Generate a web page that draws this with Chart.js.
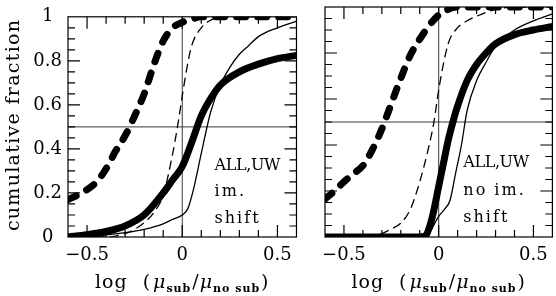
<!DOCTYPE html>
<html>
<head>
<meta charset="utf-8">
<script src="https://cdn.jsdelivr.net/npm/chart.js@4.4.1/dist/chart.umd.min.js"></script>
<style>
html, body { margin: 0; padding: 0; background: #fff; }
#wrap { position: relative; width: 556px; height: 296px; }
#c1 { position: absolute; left: 0; top: 0; }
#c2 { position: absolute; left: 300px; top: 0; }
</style>
</head>
<body>
<div id="wrap">
  <canvas id="c1" width="300" height="296"></canvas>
  <canvas id="c2" width="256" height="296"></canvas>
</div>
<script>
// axis ticks
var xTickValues = [-0.5, 0, 0.5];
var yTickValues = [0, 0.2, 0.4, 0.6, 0.8, 1];

// left panel: "ALL,UW im. shift"
var leftNote = ['ALL,UW', 'im.', 'shift'];
var lHeavyDashX = [-0.6, -0.55, -0.5, -0.45, -0.4, -0.35, -0.3, -0.25, -0.2, -0.15, -0.1, -0.05, 0, 0.05, 0.1, 0.6];
var lHeavyDashY = [0.17, 0.19, 0.215, 0.25, 0.31, 0.39, 0.46, 0.55, 0.65, 0.78, 0.89, 0.95, 0.975, 0.99, 1.0, 1.0];
var lThinDashX = [-0.6, -0.4, -0.3, -0.25, -0.2, -0.15, -0.1, -0.05, -0.025, 0, 0.025, 0.05, 0.1, 0.15, 0.2, 0.6];
var lThinDashY = [0, 0, 0.015, 0.035, 0.065, 0.11, 0.19, 0.38, 0.5, 0.64, 0.77, 0.87, 0.95, 0.985, 1.0, 1.0];
var lThinSolidX = [-0.6, -0.5, -0.4, -0.3, -0.2, -0.1, -0.05, 0, 0.03, 0.06, 0.1, 0.15, 0.2, 0.25, 0.3, 0.35, 0.4, 0.5, 0.6];
var lThinSolidY = [0, 0.005, 0.01, 0.02, 0.035, 0.06, 0.08, 0.1, 0.13, 0.22, 0.38, 0.57, 0.69, 0.77, 0.83, 0.87, 0.91, 0.95, 0.98];
var lThickX = [-0.6, -0.5, -0.4, -0.3, -0.2, -0.1, -0.05, 0, 0.05, 0.1, 0.15, 0.2, 0.3, 0.4, 0.5, 0.6];
var lThickY = [0, 0.01, 0.025, 0.05, 0.1, 0.2, 0.26, 0.32, 0.43, 0.55, 0.63, 0.69, 0.75, 0.785, 0.81, 0.825];

// right panel: "ALL,UW no im. shift"
var rightNote = ['ALL,UW', 'no im.', 'shift'];
var rHeavyDashX = [-0.6, -0.55, -0.5, -0.45, -0.4, -0.35, -0.3, -0.25, -0.2, -0.15, -0.1, -0.05, 0, 0.05, 0.1, 0.6];
var rHeavyDashY = [0.165, 0.2, 0.24, 0.275, 0.31, 0.38, 0.47, 0.58, 0.69, 0.79, 0.86, 0.92, 0.965, 0.99, 1.0, 1.0];
var rThinDashX = [-0.6, -0.35, -0.3, -0.25, -0.2, -0.15, -0.1, -0.05, -0.025, 0, 0.05, 0.1, 0.15, 0.2, 0.3, 0.4, 0.6];
var rThinDashY = [0, 0, 0.015, 0.035, 0.06, 0.12, 0.24, 0.4, 0.5, 0.64, 0.84, 0.91, 0.94, 0.96, 0.99, 1.0, 1.0];
var rThinSolidX = [-0.6, -0.06, -0.04, 0, 0.03, 0.06, 0.09, 0.12, 0.15, 0.2, 0.25, 0.3, 0.4, 0.5, 0.6];
var rThinSolidY = [0, 0, 0.03, 0.09, 0.12, 0.16, 0.28, 0.4, 0.55, 0.68, 0.76, 0.83, 0.9, 0.94, 0.97];
var rThickX = [-0.6, -0.1, -0.07, -0.05, -0.03, 0, 0.03, 0.05, 0.075, 0.1, 0.15, 0.2, 0.25, 0.3, 0.4, 0.5, 0.6];
var rThickY = [0, 0, 0.005, 0.04, 0.1, 0.22, 0.34, 0.42, 0.5, 0.57, 0.68, 0.75, 0.8, 0.84, 0.88, 0.9, 0.915];

var FONT = "'DejaVu Serif', serif";

function pts(xs, ys) {
    return xs.map(function (x, i) { return { x: x, y: ys[i] }; });
}

function series(xs, ys, kind) {
    var ds = {
        data: pts(xs, ys),
        borderColor: '#000',
        pointRadius: 0,
        fill: false,
        cubicInterpolationMode: 'monotone',
        borderJoinStyle: 'round'
    };
    if (kind === 'heavyDash') { ds.borderWidth = 7; ds.borderDash = [9, 12]; ds.borderCapStyle = 'round'; }
    if (kind === 'thinDash') { ds.borderWidth = 1.3; ds.borderDash = [9, 5]; }
    if (kind === 'thick') { ds.borderWidth = 7; }
    if (kind === 'thin') { ds.borderWidth = 1.3; }
    return ds;
}

function spacing(ctx, px) {
    if ('letterSpacing' in ctx) ctx.letterSpacing = px + 'px';
}

// frame, inward ticks, reference lines and in-plot text
var framePlugin = {
    id: 'frame',
    beforeDatasetsDraw: function (chart) {
        var ctx = chart.ctx, a = chart.chartArea, xs = chart.scales.x, ys = chart.scales.y;
        ctx.save();
        ctx.strokeStyle = '#222';
        ctx.lineWidth = 0.9;
        ctx.beginPath();
        var x0 = xs.getPixelForValue(0), y5 = ys.getPixelForValue(0.5);
        ctx.moveTo(x0, a.top); ctx.lineTo(x0, a.bottom);
        ctx.moveTo(a.left, y5); ctx.lineTo(a.right, y5);
        ctx.stroke();
        ctx.restore();
    },
    afterDatasetsDraw: function (chart, args, opts) {
        var ctx = chart.ctx, a = chart.chartArea, xs = chart.scales.x, ys = chart.scales.y;
        ctx.save();
        ctx.strokeStyle = '#000';
        ctx.lineWidth = 1.2;
        ctx.strokeRect(a.left, a.top, a.right - a.left, a.bottom - a.top);
        ctx.beginPath();
        var i, v, len, p;
        for (i = 1; i < 12; i++) {
            v = -0.6 + i * 0.1;
            len = Math.abs(v * 2 - Math.round(v * 2)) < 1e-6 ? 12 : 7;
            p = xs.getPixelForValue(v);
            ctx.moveTo(p, a.bottom); ctx.lineTo(p, a.bottom - len);
            ctx.moveTo(p, a.top); ctx.lineTo(p, a.top + len);
        }
        for (i = 1; i < 20; i++) {
            v = i * 0.05;
            len = Math.abs(v * 5 - Math.round(v * 5)) < 1e-6 ? 12 : 7;
            p = ys.getPixelForValue(v);
            ctx.moveTo(a.left, p); ctx.lineTo(a.left + len, p);
            ctx.moveTo(a.right, p); ctx.lineTo(a.right - len, p);
        }
        ctx.stroke();

        // note text
        ctx.fillStyle = '#000';
        ctx.font = '16px ' + FONT;
        ctx.textAlign = 'left';
        ctx.textBaseline = 'alphabetic';
        var nx = xs.getPixelForValue(opts.noteX);
        opts.note.forEach(function (t, k) {
            spacing(ctx, /[a-z]/.test(t) ? 2 : -0.4);
            ctx.fillText(t, nx, ys.getPixelForValue(opts.noteY[k]));
        });

        // x axis title with subscripts
        var parts = [
            { t: 'log', f: '19px ' + FONT, dy: 0, gap: 15 },
            { t: '(', f: '19px ' + FONT, dy: 0, gap: 2 },
            { t: '\u03bc', f: 'italic 19px ' + FONT, dy: 0, gap: 0 },
            { t: 'sub', f: 'bold 11px ' + FONT, dy: 4, gap: 1 },
            { t: '/', f: '19px ' + FONT, dy: 0, gap: 0 },
            { t: '\u03bc', f: 'italic 19px ' + FONT, dy: 0, gap: 0 },
            { t: 'no sub', f: 'bold 11px ' + FONT, dy: 4, gap: 1 },
            { t: ')', f: '19px ' + FONT, dy: 0, gap: 0 }
        ];
        spacing(ctx, 1);
        var total = 0;
        parts.forEach(function (q) { ctx.font = q.f; q.w = ctx.measureText(q.t).width; total += q.w + q.gap; });
        total -= parts[parts.length - 1].gap;
        var cx = (a.left + a.right) / 2 - total / 2;
        var base = a.bottom + 51;
        parts.forEach(function (q) {
            ctx.font = q.f;
            ctx.fillText(q.t, cx, base + q.dy);
            cx += q.w + q.gap;
        });

        // y axis title
        if (opts.yTitle) {
            ctx.font = '19px ' + FONT;
            ctx.textAlign = 'center';
            ctx.textBaseline = 'middle';
            spacing(ctx, 1.3);
            ctx.translate(14, (a.top + a.bottom) / 2 - 2);
            ctx.rotate(-Math.PI / 2);
            ctx.fillText(opts.yTitle, 0, 0);
        }
        ctx.restore();
    }
};

function makePanel(id, sets, note, noteX, noteY, showY) {
    return new Chart(document.getElementById(id), {
        type: 'line',
        data: { datasets: sets },
        plugins: [framePlugin],
        options: {
            responsive: false,
            animation: false,
            events: [],
            layout: { padding: { top: 7, right: 3, left: 0, bottom: 0 } },
            scales: {
                x: {
                    type: 'linear',
                    min: -0.6,
                    max: 0.6,
                    grid: { display: false, drawTicks: false },
                    border: { display: false },
                    afterBuildTicks: function (s) { s.ticks = xTickValues.map(function (v) { return { value: v }; }); },
                    afterFit: function (s) { s.height = 59; },
                    ticks: {
                        padding: 8,
                        color: '#000',
                        font: { family: FONT, size: 18 },
                        maxRotation: 0,
                        callback: function (v) { return v < 0 ? '\u2212' + Math.abs(v) : String(v); }
                    }
                },
                y: {
                    min: 0,
                    max: 1,
                    grid: { display: false, drawTicks: false },
                    border: { display: false },
                    afterBuildTicks: function (s) { s.ticks = yTickValues.map(function (v) { return { value: v }; }); },
                    afterFit: function (s) { s.width = showY ? 68 : 25; },
                    ticks: {
                        display: showY,
                        padding: 6,
                        crossAlign: 'center',
                        color: '#000',
                        font: { family: FONT, size: 18 },
                        callback: function (v) { return String(v); }
                    }
                }
            },
            plugins: {
                legend: { display: false },
                tooltip: { enabled: false },
                frame: { note: note, noteX: noteX, noteY: noteY, yTitle: showY ? 'cumulative fraction' : null }
            }
        }
    });
}

makePanel('c1', [
    series(lThinDashX, lThinDashY, 'thinDash'),
    series(lThinSolidX, lThinSolidY, 'thin'),
    series(lThickX, lThickY, 'thick'),
    series(lHeavyDashX, lHeavyDashY, 'heavyDash')
], leftNote, 0.17, [0.305, 0.187, 0.065], true);

makePanel('c2', [
    series(rThinDashX, rThinDashY, 'thinDash'),
    series(rThinSolidX, rThinSolidY, 'thin'),
    series(rThickX, rThickY, 'thick'),
    series(rHeavyDashX, rHeavyDashY, 'heavyDash')
], rightNote, 0.13, [0.305, 0.183, 0.065], false);
</script>
</body>
</html>
